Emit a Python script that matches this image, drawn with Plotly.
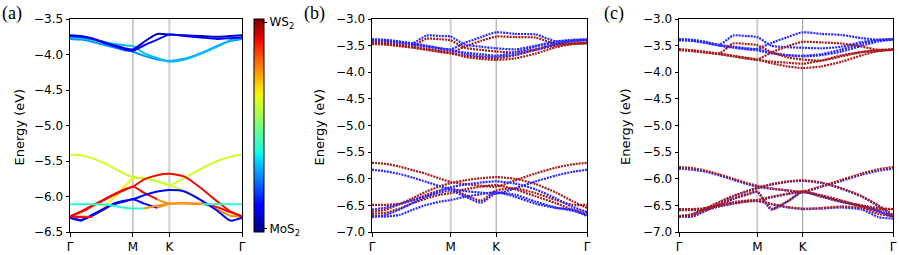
import plotly.graph_objects as go

# ---------------- k-path grid (Γ - M - K - Γ) ----------------
KG = [0.0, 0.1, 0.2, 0.3, 0.4, 0.5, 0.577, 0.68, 0.8, 0.911, 1.05, 1.2, 1.35, 1.47, 1.577]
K_TICKS = [0.0, 0.577, 0.911, 1.577]
K_LABELS = ["Γ", "M", "K", "Γ"]

# ---------------- panel (a): projected bands ----------------
A_C1 = [-3.78, -3.79, -3.82, -3.86, -3.90, -3.94, -3.96, -4.02, -4.07, -4.09, -4.06, -3.98, -3.88, -3.81, -3.78]
A_C2 = [-3.76, -3.77, -3.79, -3.82, -3.85, -3.87, -3.88, -3.98, -4.05, -4.10, -4.07, -3.99, -3.89, -3.80, -3.76]
A_C3 = [-3.73, -3.74, -3.77, -3.82, -3.87, -3.91, -3.93, -3.82, -3.71, -3.72, -3.73, -3.74, -3.75, -3.74, -3.73]
A_C4 = [-3.74, -3.75, -3.78, -3.83, -3.88, -3.93, -3.95, -3.87, -3.79, -3.72, -3.74, -3.76, -3.78, -3.77, -3.76]
A_Y1 = [-5.41, -5.42, -5.46, -5.52, -5.60, -5.68, -5.73, -5.74, -5.78, -5.84, -5.93, -6.05, -6.18, -6.27, -6.28]
A_Y2 = [-6.28, -6.28, -6.28, -6.17, -6.02, -5.86, -5.74, -5.74, -5.79, -5.84, -5.74, -5.61, -5.50, -5.44, -5.41]
A_V1 = [-6.28, -6.21, -6.13, -6.05, -5.97, -5.90, -5.86, -5.76, -5.70, -5.68, -5.72, -5.88, -6.07, -6.21, -6.28]
A_V2 = [-6.28, -6.22, -6.14, -6.06, -5.98, -5.91, -5.86, -5.95, -6.04, -6.10, -6.09, -6.10, -6.15, -6.22, -6.28]
A_V3 = [-6.30, -6.34, -6.26, -6.18, -6.10, -6.06, -6.04, -5.98, -5.93, -5.91, -5.93, -6.05, -6.20, -6.34, -6.30]
A_V4 = [-6.30, -6.33, -6.27, -6.19, -6.11, -6.07, -6.04, -6.10, -6.16, -6.10, None, None, None, None, None]
A_V5 = [-6.11, -6.11, -6.11, -6.11, -6.13, -6.16, -6.17, -6.17, -6.13, -6.10, -6.10, -6.11, -6.11, -6.11, -6.11]
A_V6 = [-6.28, -6.29, -6.29, None, None, None, None, None, None, None, None, None, None, None, None]

A_BANDS = {"C1": A_C1, "C2": A_C2, "C3": A_C3, "C4": A_C4, "Y1": A_Y1, "Y2": A_Y2,
           "V1": A_V1, "V2": A_V2, "V3": A_V3, "V4": A_V4, "V5": A_V5, "V6": A_V6}
# colour weight (0 = MoS2, 1 = WS2) for runs of grid intervals
A_COLOURS = {
    "C1": [(0, 14, 0.27)], "C2": [(0, 14, 0.31)], "C3": [(0, 14, 0.06)], "C4": [(0, 14, 0.13)],
    "Y1": [(0, 11, 0.60), (11, 14, 0.76)],
    "Y2": [(0, 3, 0.76), (3, 6, 0.65), (6, 14, 0.60)],
    "V1": [(0, 14, 0.90)],
    "V2": [(0, 8, 0.90), (8, 11, 0.76), (11, 14, 0.90)],
    "V3": [(0, 14, 0.12)],
    "V4": [(0, 8, 0.12), (8, 9, 0.76)],
    "V5": [(0, 7, 0.40), (7, 11, 0.76), (11, 14, 0.40)],
    "V6": [(0, 2, 0.90)],
}

# ---------------- panel (b) ----------------
B_BLUE = [
    [-3.38, -3.39, -3.42, -3.45, -3.31, -3.32, -3.33, -3.48, -3.52, -3.55, -3.57, -3.50, -3.42, -3.39, -3.38],
    [-3.39, -3.40, -3.43, -3.46, -3.50, -3.55, -3.58, -3.66, -3.70, -3.71, -3.67, -3.58, -3.47, -3.41, -3.39],
    [-3.40, -3.41, -3.44, -3.47, -3.51, -3.55, -3.57, -3.45, -3.34, -3.25, -3.28, -3.29, -3.42, -3.40, -3.39],
    [-3.41, -3.42, -3.45, -3.48, -3.52, -3.56, -3.59, -3.63, -3.66, -3.69, -3.62, -3.52, -3.44, -3.41, -3.40],
    [-5.83, -5.86, -5.91, -5.98, -6.06, -6.14, -6.19, -6.23, -6.26, -6.28, -6.18, -6.05, -5.94, -5.87, -5.83],
    [-6.72, -6.68, -6.58, -6.45, -6.33, -6.22, -6.16, -6.11, -6.07, -6.05, -6.09, -6.20, -6.37, -6.53, -6.62],
    [-6.58, -6.54, -6.48, -6.40, -6.33, -6.26, -6.22, -6.33, -6.45, -6.27, -6.30, -6.43, -6.54, -6.60, -6.68],
    [-6.70, -6.71, -6.68, -6.58, -6.49, -6.43, -6.40, -6.34, -6.29, -6.25, -6.34, -6.47, -6.55, -6.58, -6.70],
]
B_RED = [
    [-3.44, -3.45, -3.48, -3.50, -3.37, -3.38, -3.40, -3.54, -3.58, -3.61, -3.63, -3.57, -3.48, -3.45, -3.44],
    [-3.45, -3.46, -3.49, -3.52, -3.56, -3.60, -3.63, -3.71, -3.75, -3.77, -3.74, -3.65, -3.53, -3.47, -3.45],
    [-3.46, -3.47, -3.50, -3.53, -3.57, -3.61, -3.63, -3.52, -3.41, -3.33, -3.34, -3.35, -3.47, -3.46, -3.45],
    [-3.47, -3.48, -3.51, -3.54, -3.58, -3.62, -3.65, -3.69, -3.72, -3.74, -3.68, -3.58, -3.50, -3.47, -3.46],
    [-5.70, -5.72, -5.77, -5.84, -5.91, -6.00, -6.06, -6.10, -6.13, -6.15, -6.03, -5.90, -5.79, -5.73, -5.70],
    [-6.62, -6.58, -6.48, -6.36, -6.24, -6.14, -6.08, -6.03, -5.99, -5.97, -6.00, -6.10, -6.26, -6.42, -6.55],
    [-6.49, -6.49, -6.47, -6.40, -6.30, -6.22, -6.18, -6.30, -6.41, -6.22, -6.18, -6.27, -6.40, -6.49, -6.49],
    [-6.66, -6.64, -6.56, -6.46, -6.37, -6.30, -6.27, -6.20, -6.15, -6.12, -6.20, -6.33, -6.46, -6.58, -6.64],
]

# ---------------- panel (c) ----------------
C_BLUE = [
    [-3.38, -3.39, -3.43, -3.48, -3.31, -3.32, -3.34, -3.50, -3.53, -3.54, -3.55, -3.52, -3.43, -3.39, -3.38],
    [-3.38, -3.40, -3.44, -3.49, -3.52, -3.55, -3.57, -3.64, -3.68, -3.69, -3.66, -3.57, -3.46, -3.40, -3.38],
    [-3.39, -3.41, -3.45, -3.50, -3.53, -3.56, -3.56, -3.45, -3.34, -3.25, -3.28, -3.30, -3.36, -3.39, -3.38],
    [-3.40, -3.41, -3.45, -3.50, -3.54, -3.57, -3.59, -3.64, -3.68, -3.70, -3.68, -3.61, -3.50, -3.42, -3.39],
    [-5.81, -5.83, -5.87, -5.94, -6.02, -6.10, -6.15, -6.19, -6.22, -6.25, -6.15, -6.04, -5.92, -5.85, -5.81],
    [-6.71, -6.67, -6.56, -6.44, -6.33, -6.24, -6.18, -6.11, -6.06, -6.04, -6.08, -6.19, -6.34, -6.52, -6.70],
    [-6.58, -6.58, -6.56, -6.50, -6.45, -6.42, -6.41, -6.35, -6.29, -6.25, -6.32, -6.42, -6.53, -6.62, -6.72],
    [-6.71, -6.71, -6.60, -6.48, -6.38, -6.30, -6.25, -6.58, -6.43, -6.25, -6.34, -6.44, -6.51, -6.60, -6.70],
    [-6.59, -6.59, -6.58, -6.52, -6.47, -6.43, -6.42, -6.48, -6.54, -6.57, -6.56, -6.54, -6.58, -6.72, -6.75],
]
C_RED = [
    [-3.57, -3.59, -3.62, -3.64, -3.46, -3.47, -3.49, -3.62, -3.72, -3.76, -3.78, -3.70, -3.62, -3.58, -3.57],
    [-3.57, -3.59, -3.62, -3.65, -3.69, -3.73, -3.76, -3.83, -3.89, -3.92, -3.89, -3.80, -3.68, -3.60, -3.57],
    [-3.58, -3.60, -3.63, -3.66, -3.70, -3.74, -3.76, -3.63, -3.51, -3.43, -3.44, -3.46, -3.52, -3.58, -3.58],
    [-3.58, -3.60, -3.63, -3.66, -3.70, -3.74, -3.77, -3.80, -3.82, -3.84, -3.78, -3.68, -3.62, -3.60, -3.58],
    [-5.78, -5.80, -5.85, -5.92, -6.00, -6.08, -6.13, -6.18, -6.22, -6.24, -6.14, -6.02, -5.90, -5.82, -5.78],
    [-6.70, -6.66, -6.55, -6.43, -6.32, -6.23, -6.17, -6.10, -6.05, -6.03, -6.07, -6.18, -6.33, -6.50, -6.68],
    [-6.57, -6.57, -6.55, -6.49, -6.44, -6.41, -6.40, -6.34, -6.28, -6.24, -6.31, -6.41, -6.52, -6.58, -6.57],
    [-6.70, -6.69, -6.58, -6.47, -6.37, -6.29, -6.24, -6.56, -6.42, -6.24, -6.33, -6.43, -6.50, -6.55, -6.57],
    [-6.58, -6.58, -6.57, -6.51, -6.46, -6.42, -6.41, -6.47, -6.53, -6.56, -6.55, -6.52, -6.55, -6.66, -6.70],
]

Y_RANGE_A = [-6.5, -3.5]
Y_RANGE_BC = [-7.0, -3.0]
CBAR_TICKS = [0.015, 0.985]
CBAR_LABELS = ["MoS<sub>2</sub>", "WS<sub>2</sub>"]
PANEL_LABELS = ["(a)", "(b)", "(c)"]
Y_TITLE = "Energy (eV)"


# ---------------- helpers ----------------
def _interp(pts, v):
    for (x0, y0), (x1, y1) in zip(pts[:-1], pts[1:]):
        if x0 <= v <= x1:
            return y0 + (y1 - y0) * (v - x0) / (x1 - x0) if x1 > x0 else y1
    return pts[-1][1]


def jet(v):
    r = _interp([(0, 0), (0.35, 0), (0.66, 1), (0.89, 1), (1, 0.5)], v)
    g = _interp([(0, 0), (0.125, 0), (0.375, 1), (0.64, 1), (0.91, 0), (1, 0)], v)
    b = _interp([(0, 0.5), (0.11, 1), (0.34, 1), (0.65, 0), (1, 0)], v)
    return "rgb(%d,%d,%d)" % (round(r * 255), round(g * 255), round(b * 255))


JET = [[i / 40, jet(i / 40)] for i in range(41)]

W, H = 899, 255
PANELS = [  # pixel boxes: left, right, top, bottom
    (70, 242, 19, 232),
    (372, 587, 19, 232),
    (679, 893, 19, 232),
]
LABEL_X = [0, 302, 602]
TITLE_X = [18.5, 318.5, 625]

fig = go.Figure()

# panel (a)
for name, vals in A_BANDS.items():
    for i0, i1, v in A_COLOURS[name]:
        fig.add_trace(go.Scatter(
            x=KG[i0:i1 + 1], y=vals[i0:i1 + 1], mode="lines",
            line=dict(color=jet(v), width=2, shape="spline", smoothing=0.6),
            xaxis="x", yaxis="y", hoverinfo="skip", showlegend=False))

# colourbar (dummy, off-range marker)
fig.add_trace(go.Scatter(
    x=[0.5, 0.6], y=[-20, -20], mode="markers",
    marker=dict(color=[0, 1], colorscale=JET, cmin=0, cmax=1, showscale=True, size=1,
                colorbar=dict(
                    x=254 / W, xanchor="left", xref="paper", xpad=0, ypad=0,
                    y=1 - (19 + 232) / 2 / H, yanchor="middle", yref="paper",
                    len=(232 - 19) / H, lenmode="fraction",
                    thickness=10, thicknessmode="pixels",
                    outlinewidth=1, outlinecolor="black",
                    tickvals=CBAR_TICKS, ticktext=CBAR_LABELS,
                    ticks="outside", ticklen=3, tickcolor="black",
                    tickfont=dict(family="DejaVu Sans", size=12, color="black"))),
    xaxis="x", yaxis="y", hoverinfo="skip", showlegend=False))

RED = "#a81c1c"
BLUE = "#2a2aff"


def dotted(vals, colour, xa, ya):
    return go.Scatter(x=KG, y=vals, mode="lines",
                      line=dict(color=colour, width=2.2, dash="2px,1px",
                                shape="spline", smoothing=0.6),
                      xaxis=xa, yaxis=ya, hoverinfo="skip", showlegend=False)


for vals in B_RED:
    fig.add_trace(dotted(vals, RED, "x2", "y2"))
for vals in B_BLUE:
    fig.add_trace(dotted(vals, BLUE, "x2", "y2"))
for vals in C_BLUE:
    fig.add_trace(dotted(vals, BLUE, "x3", "y3"))
for vals in C_RED:
    fig.add_trace(dotted(vals, RED, "x3", "y3"))

font_ticks = dict(family="DejaVu Sans", size=12, color="black")
axis_common = dict(showline=True, mirror=True, linecolor="black", linewidth=1,
                   ticks="outside", ticklen=3.5, tickwidth=1, tickcolor="black",
                   showgrid=False, zeroline=False, tickfont=font_ticks, automargin=False)

layout = dict(width=W, height=H, margin=dict(l=0, r=0, t=0, b=0, pad=0, autoexpand=False),
              paper_bgcolor="white", plot_bgcolor="white", showlegend=False)
shapes = []
annotations = []
for idx, (l, r, t, b) in enumerate(PANELS):
    sfx = "" if idx == 0 else str(idx + 1)
    layout["xaxis" + sfx] = dict(axis_common, domain=[l / W, r / W], anchor="y" + sfx,
                                 range=[KG[0], KG[-1]], tickvals=K_TICKS, ticktext=K_LABELS)
    yr = Y_RANGE_A if idx == 0 else Y_RANGE_BC
    layout["yaxis" + sfx] = dict(axis_common, domain=[1 - b / H, 1 - t / H], anchor="x" + sfx,
                                 range=yr, dtick=0.5, tick0=-7.0, tickformat=".1f")
    m_style = ("#9a9a9a", 1) if idx == 0 else ("#cfcfcf", 2)
    k_style = ("#cfcfcf", 2) if idx == 0 else ("#9a9a9a", 1)
    for xv, (col, wd) in ((K_TICKS[1], m_style), (K_TICKS[2], k_style)):
        shapes.append(dict(type="line", xref="x" + sfx, yref="y" + sfx + " domain",
                           x0=xv, x1=xv, y0=0, y1=1, layer="below",
                           line=dict(color=col, width=wd)))
    annotations.append(dict(text=PANEL_LABELS[idx], xref="paper", yref="paper",
                            x=LABEL_X[idx] / W, y=1 - 1 / H, xanchor="left", yanchor="top",
                            showarrow=False,
                            font=dict(family="Liberation Serif", size=18, color="black")))
    annotations.append(dict(text=Y_TITLE, xref="paper", yref="paper",
                            x=TITLE_X[idx] / W, y=1 - 127 / H,
                            xanchor="center", yanchor="middle", textangle=-90, showarrow=False,
                            font=dict(family="DejaVu Sans", size=13, color="black")))

layout["shapes"] = shapes
layout["annotations"] = annotations
fig.update_layout(**layout)
fig.write_html("out.html", config={"displayModeBar": False},
               post_script="document.body.style.margin='0';document.body.style.overflow='hidden';")
